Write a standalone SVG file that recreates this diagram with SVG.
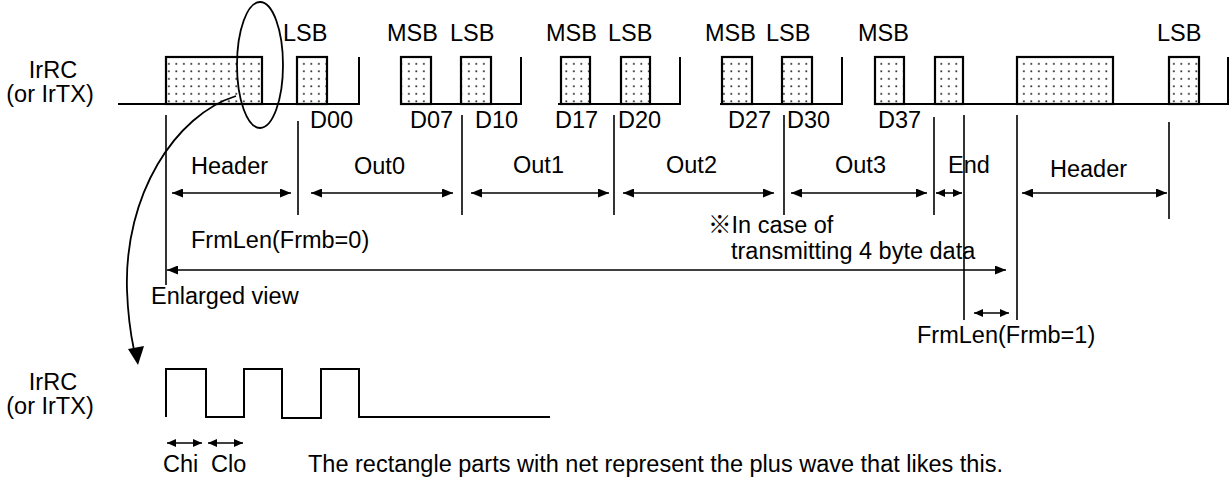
<svg xmlns="http://www.w3.org/2000/svg" width="1231" height="481" viewBox="0 0 1231 481">
<style>
text{font-family:"Liberation Sans",Arial,"Noto Sans CJK JP",sans-serif;font-size:23.5px;fill:#000}
.wave{fill:none;stroke:#000;stroke-width:2}
.box{fill:url(#dots);stroke:#000;stroke-width:2.2}
.tick{stroke:#000;stroke-width:1.6;fill:none}
.dim{stroke:#000;stroke-width:1.6;fill:none;marker-start:url(#ah);marker-end:url(#ah)}
.dims{stroke:#000;stroke-width:1.6;fill:none;marker-start:url(#ahs);marker-end:url(#ahs)}
</style>
<defs>
<pattern id="dots" width="7.5" height="7.5" patternUnits="userSpaceOnUse">
<rect width="7.5" height="7.5" fill="#fff"/>
<rect x="3" y="3" width="1.7" height="1.7" fill="#222"/>
</pattern>
<marker id="ah" viewBox="0 0 11 9" refX="11" refY="4.5" markerWidth="11" markerHeight="9" orient="auto-start-reverse" markerUnits="userSpaceOnUse"><path d="M0,0 L11,4.5 L0,9 z" fill="#000"/></marker>
<marker id="ahs" viewBox="0 0 9 8" refX="9" refY="4" markerWidth="9" markerHeight="8" orient="auto-start-reverse" markerUnits="userSpaceOnUse"><path d="M0,0 L9,4 L0,8 z" fill="#000"/></marker>
</defs>
<rect width="1231" height="481" fill="#fff"/>

<g id="signal-label-top">
<text x="53" y="78" text-anchor="middle">IrRC</text>
<text x="50" y="102" text-anchor="middle">(or IrTX)</text>
</g>

<g id="waveform-top">
<path class="wave" d="M118,104 H359 V57"/>
<path class="wave" d="M400,104 H521 V57"/>
<path class="wave" d="M558,104 H680 V57"/>
<path class="wave" d="M720,104 H842 V57"/>
<path class="wave" d="M874,104 H1228 V57"/>
<rect class="box" x="166" y="57" width="96" height="47"/>
<rect class="box" x="297" y="57" width="30" height="47"/>
<rect class="box" x="401" y="57" width="30" height="47"/>
<rect class="box" x="461" y="57" width="30" height="47"/>
<rect class="box" x="561" y="57" width="29" height="47"/>
<rect class="box" x="621" y="57" width="29" height="47"/>
<rect class="box" x="722" y="57" width="30" height="47"/>
<rect class="box" x="782" y="57" width="30" height="47"/>
<rect class="box" x="875" y="57" width="29" height="47"/>
<rect class="box" x="935" y="57" width="28" height="47"/>
<rect class="box" x="1017" y="57" width="96" height="47"/>
<rect class="box" x="1169" y="57" width="30" height="47"/>
</g>

<g id="bit-labels">
<text x="283" y="41">LSB</text>
<text x="387" y="41">MSB</text>
<text x="450" y="41">LSB</text>
<text x="546" y="41">MSB</text>
<text x="608" y="41">LSB</text>
<text x="705" y="41">MSB</text>
<text x="766" y="41">LSB</text>
<text x="858" y="41">MSB</text>
<text x="1157" y="41">LSB</text>
<text x="310" y="128">D00</text>
<text x="410" y="128">D07</text>
<text x="475" y="128">D10</text>
<text x="555" y="128">D17</text>
<text x="618" y="128">D20</text>
<text x="728" y="128">D27</text>
<text x="787" y="128">D30</text>
<text x="878" y="128">D37</text>
</g>

<g id="ellipse-zoom">
<ellipse cx="260" cy="65" rx="23" ry="63" fill="none" stroke="#000" stroke-width="1.8"/>
</g>

<g id="connectors">
<line class="tick" x1="166" y1="115" x2="166" y2="285"/>
<line class="tick" x1="298" y1="121" x2="298" y2="215"/>
<line class="tick" x1="462" y1="115" x2="462" y2="215"/>
<line class="tick" x1="614" y1="115" x2="614" y2="215"/>
<line class="tick" x1="784" y1="115" x2="784" y2="215"/>
<line class="tick" x1="934" y1="117" x2="934" y2="215"/>
<line class="tick" x1="964" y1="115" x2="964" y2="320"/>
<line class="tick" x1="1017" y1="115" x2="1017" y2="320"/>
<line class="tick" x1="1169" y1="122" x2="1169" y2="219"/>
<line class="dim" x1="172" y1="193" x2="291" y2="193"/>
<line class="dim" x1="311" y1="193" x2="453" y2="193"/>
<line class="dim" x1="471" y1="193" x2="609" y2="193"/>
<line class="dim" x1="623" y1="193" x2="774" y2="193"/>
<line class="dim" x1="791" y1="193" x2="927" y2="193"/>
<line class="dims" x1="936" y1="193" x2="962" y2="193"/>
<line class="dim" x1="1022" y1="193" x2="1167" y2="193"/>
<line class="dim" x1="167" y1="270" x2="1006" y2="270"/>
<line class="dims" x1="974" y1="313" x2="1009" y2="313"/>
<line class="dims" x1="167" y1="443" x2="202" y2="443"/>
<line class="dims" x1="208" y1="443" x2="243" y2="443"/>
<path d="M236,96 C175,115 124,195 127,290 C128,318 131,336 134,350" fill="none" stroke="#000" stroke-width="1.8"/>
<polygon points="138,365 128,349 144,346" fill="#000"/>
</g>

<g id="segment-labels">
<text x="191" y="174">Header</text>
<text x="354" y="174">Out0</text>
<text x="513" y="173">Out1</text>
<text x="666" y="173">Out2</text>
<text x="835" y="173">Out3</text>
<text x="948" y="173">End</text>
<text x="1050" y="177">Header</text>
<text x="191" y="248">FrmLen(Frmb=0)</text>
<text x="708" y="233">※In case of</text>
<text x="731" y="259">transmitting 4 byte data</text>
<text x="151" y="304">Enlarged view</text>
<text x="917" y="343">FrmLen(Frmb=1)</text>
</g>

<g id="signal-label-bottom">
<text x="53" y="390" text-anchor="middle">IrRC</text>
<text x="50" y="414" text-anchor="middle">(or IrTX)</text>
</g>

<g id="waveform-bottom">
<path class="wave" d="M166,417 V369 H206 V417 H244 V369 H282 V418 H321 V369 H359 V417 H550"/>
</g>

<g id="carrier-labels">
<text x="163" y="472">Chi</text>
<text x="211" y="472">Clo</text>
<text x="308" y="472">The rectangle parts with net represent the plus wave that likes this.</text>
</g>
</svg>
